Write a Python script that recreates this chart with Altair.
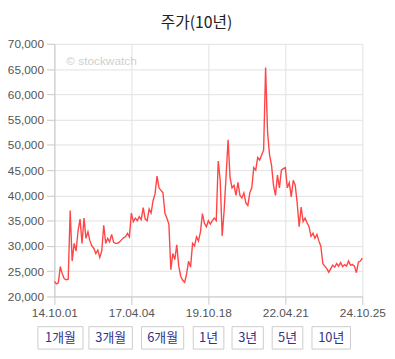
import altair as alt
import pandas as pd

# ---- data ----
prices = [
    23000, 22500, 22700, 25900, 24500, 23500, 23300, 23400, 37000, 27000,
    30500, 29000, 33000, 35300, 30500, 35500, 31500, 32800, 31000, 30000,
    29500, 28500, 29200, 27700, 29000, 34100, 30500, 31500, 30800, 32300,
    30700, 30500, 30500, 30800, 31200, 31600, 31800, 32500, 31800, 36500,
    34800, 35500, 35000, 35800, 35200, 37600, 35300, 35000, 37300, 36500,
    39000, 40300, 43800, 41500, 41000, 40500, 36500, 35500, 34300, 25300,
    28500, 27300, 30200, 26000, 24000, 23200, 22800, 24500, 27000, 25800,
    30500, 30000, 31800, 31000, 32800, 36400, 34500, 33800, 35000, 34300,
    35000, 35500, 35000, 46800, 43000, 32000, 37000, 44000, 51000, 43500,
    41500, 42000, 40000, 42600, 40000, 39500, 40500, 38500, 38000, 40500,
    41500, 45500, 45000, 47500, 47000, 48000, 49000, 65300, 52500, 48000,
    46000, 42000, 40000, 44000, 41500, 45000, 45300, 45500, 41500, 42500,
    39700, 43000, 42000, 38500, 33800, 37700, 34800, 35500, 34600, 33800,
    31900, 32500, 31500, 32300, 31000, 29900, 26500, 26000, 25500, 24800,
    25500, 26200, 25800, 26500, 26000, 26700, 25900, 26300, 26000, 27000,
    26200, 26300, 26000, 24700, 26800, 27000, 27600,
]
tick_labels = ["14.10.01", "17.04.04", "19.10.18", "22.04.21", "24.10.25"]
y_ticks = [20000, 25000, 30000, 35000, 40000, 45000, 50000, 55000, 60000, 65000, 70000]
title_text = "주가(10년)"
watermark_text = "© stockwatch"
buttons = ["1개월", "3개월", "6개월", "1년", "3년", "5년", "10년"]

# ---- layout constants (pixels relative to plot area) ----
W, H = 312, 256
button_lr = [(-16.7, 29), (35, 79), (88.3, 131), (140.7, 171.7),
             (180, 211.7), (220.7, 251.7), (261, 300)]
btn_top, btn_bot = 286.6, 309.3

n = len(prices)
df = pd.DataFrame({"i": list(range(n)), "price": prices})
tick_idx = [round(k * (n - 1) / (len(tick_labels) - 1)) for k in range(len(tick_labels))]
label_expr = ""
for idx, lab in zip(tick_idx, tick_labels):
    label_expr += f"datum.value == {idx} ? '{lab}' : "
label_expr += "''"

line = alt.Chart(df).mark_line(color="#ff3b3b", strokeWidth=1.4, opacity=0.95).encode(
    x=alt.X("i:Q", scale=alt.Scale(domain=[0, n - 1], nice=False),
            axis=alt.Axis(values=tick_idx, labelExpr=label_expr, title=None,
                          tickSize=8, labelPadding=3, grid=True, labelFlush=False,
                          labelOverlap=False)),
    y=alt.Y("price:Q", scale=alt.Scale(domain=[20000, 70000], nice=False),
            axis=alt.Axis(values=y_ticks, format=",d", title=None,
                          tickSize=8, labelPadding=3, grid=True, labelFlush=False)),
)

one = pd.DataFrame({"k": [0]})

title = alt.Chart(one).mark_text(
    font="Noto Sans CJK KR", fontSize=16, color="#222222", align="center", baseline="middle"
).encode(x=alt.value(144), y=alt.value(-21.5), text=alt.value(title_text))

watermark = alt.Chart(one).mark_text(
    font="Liberation Sans", fontSize=12, color="#cfcfcf", align="left", baseline="middle"
).encode(x=alt.value(12), y=alt.value(17.5), text=alt.value(watermark_text))

layers = [line, title, watermark]
for lab, (l, r) in zip(buttons, button_lr):
    layers.append(
        alt.Chart(one).mark_rect(fill="white", stroke="#cccccc", strokeWidth=1).encode(
            x=alt.value(l), x2=alt.value(r), y=alt.value(btn_top), y2=alt.value(btn_bot))
    )
    layers.append(
        alt.Chart(one).mark_text(
            font="Noto Sans CJK KR", fontSize=13, color="#333388", align="center", baseline="middle"
        ).encode(x=alt.value((l + r) / 2), y=alt.value((btn_top + btn_bot) / 2),
                 text=alt.value(lab))
    )

chart = alt.layer(*layers).properties(
    width=W, height=H,
    autosize=alt.AutoSizeParams(type="none"),
    padding={"left": 47, "top": 34, "right": 25, "bottom": 54},
    background="white",
).configure_axis(
    gridColor="#e2e2e2", domainColor="#c8c8c8", tickColor="#c8c8c8",
    labelColor="#555555", labelFont="Liberation Sans", labelFontSize=12,
).configure_view(stroke=None)

chart.save("out.html", embed_options={"renderer": "svg", "actions": False})
